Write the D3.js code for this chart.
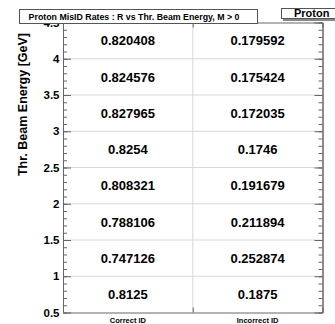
<!DOCTYPE html>
<html><head><meta charset="utf-8">
<script src="https://cdn.jsdelivr.net/npm/d3@7"></script>
<style>
body{margin:0;background:#fff;}
text{font-family:"Liberation Sans",Arial,Helvetica,sans-serif;font-weight:bold;fill:#000;}
</style></head>
<body>
<svg id="c" width="335" height="324"></svg>
<script>
// Data
const categories = ["Correct ID", "Incorrect ID"];
const binLow = [0.5, 1.0, 1.5, 2.0, 2.5, 3.0, 3.5, 4.0];
const binHigh = [1.0, 1.5, 2.0, 2.5, 3.0, 3.5, 4.0, 4.5];
const correctID = ["0.8125", "0.747126", "0.788106", "0.808321", "0.8254", "0.827965", "0.824576", "0.820408"];
const incorrectID = ["0.1875", "0.252874", "0.211894", "0.191679", "0.1746", "0.172035", "0.175424", "0.179592"];
const yTicks = [0.5, 1, 1.5, 2, 2.5, 3, 3.5, 4, 4.5];
const yTickLabels = ["0.5", "1", "1.5", "2", "2.5", "3", "3.5", "4", "4.5"];
const title = "Proton MisID Rates : R vs Thr. Beam Energy, M > 0";
const statTitle = "Proton";
const yTitle = "Thr. Beam Energy [GeV]";

const svg = d3.select("#c");
const L = 63, R = 322.5, T = 22.5, B = 312.5;
const x = d3.scaleLinear().domain([0, categories.length]).range([L, R]);
const y = d3.scaleLinear().domain([0.5, 4.5]).range([B, T]);
const axisCol = "#666";

// grid
const g = svg.append("g");
g.selectAll("line.h").data(yTicks.slice(1, -1)).enter().append("line")
  .attr("x1", L).attr("x2", R).attr("y1", d => y(d)).attr("y2", d => y(d))
  .attr("stroke", "#d8d8d8").attr("stroke-width", 1);
g.selectAll("line.v").data(d3.range(1, categories.length)).enter().append("line")
  .attr("y1", T).attr("y2", B).attr("x1", d => x(d)).attr("x2", d => x(d))
  .attr("stroke", "#d8d8d8").attr("stroke-width", 1);

// cell text
const series = [correctID, incorrectID];
series.forEach((vals, ci) => {
  svg.append("g").selectAll("text").data(vals).enter().append("text")
    .attr("x", x(ci + 0.5))
    .attr("y", (d, i) => y((binLow[i] + binHigh[i]) / 2))
    .attr("dy", "0.36em")
    .attr("text-anchor", "middle")
    .attr("font-size", "13px")
    .text(d => d);
});

// left axis
const minor = d3.range(0.5, 4.5001, 0.1);
const leftAx = d3.axisLeft(y).tickValues(yTicks).tickFormat((d, i) => yTickLabels[i]).tickSizeInner(-8).tickSizeOuter(0).tickPadding(3);
const la = svg.append("g").attr("transform", `translate(${L},0)`).call(leftAx);
la.selectAll("text").attr("font-size", "11.5px").attr("font-family", '"Liberation Sans",Arial,sans-serif').attr("font-weight", "bold").attr("fill", "#000").attr("x", -3.5);
la.selectAll("line,path").attr("stroke", axisCol);
const laMinor = d3.axisLeft(y).tickValues(minor).tickFormat("").tickSizeInner(-4).tickSizeOuter(0);
svg.append("g").attr("transform", `translate(${L},0)`).call(laMinor).selectAll("line,path").attr("stroke", axisCol);

// right axis
const rightAx = d3.axisRight(y).tickValues(yTicks).tickFormat("").tickSizeInner(-8).tickSizeOuter(0);
svg.append("g").attr("transform", `translate(${R},0)`).call(rightAx).selectAll("line,path").attr("stroke", axisCol);
const raMinor = d3.axisRight(y).tickValues(minor).tickFormat("").tickSizeInner(-4).tickSizeOuter(0);
svg.append("g").attr("transform", `translate(${R},0)`).call(raMinor).selectAll("line,path").attr("stroke", axisCol);

// bottom axis
const botAx = d3.axisBottom(x).tickValues(d3.range(0, categories.length + 1)).tickFormat("").tickSizeInner(-5).tickSizeOuter(0);
svg.append("g").attr("transform", `translate(0,${B})`).call(botAx).selectAll("line,path").attr("stroke", axisCol);
const topAx = d3.axisTop(x).tickValues(d3.range(0, categories.length + 1)).tickFormat("").tickSizeInner(-5).tickSizeOuter(0);
svg.append("g").attr("transform", `translate(0,${T})`).call(topAx).selectAll("line,path").attr("stroke", axisCol);

// category labels
svg.append("g").selectAll("text").data(categories).enter().append("text")
  .attr("x", (d, i) => x(i + 0.5)).attr("y", 322.5)
  .attr("text-anchor", "middle").attr("font-size", "7.5px").text(d => d);

// y title
svg.append("text").attr("transform", "translate(26.5,33) rotate(-90)")
  .attr("text-anchor", "end").attr("font-size", "12.5px").text(yTitle);

// title box
svg.append("rect").attr("x", 19.5).attr("y", 9.5).attr("width", 238).attr("height", 14)
  .attr("fill", "#fff").attr("stroke", "#555").attr("stroke-width", 1);
svg.append("text").attr("x", 134).attr("y", 19.7).attr("text-anchor", "middle")
  .attr("font-size", "8.8px").text(title);

// stat box
svg.append("rect").attr("x", 283).attr("y", 18.5).attr("width", 60).attr("height", 2.5).attr("fill", "#888");
svg.append("rect").attr("x", 281.5).attr("y", 8.5).attr("width", 60).attr("height", 10)
  .attr("fill", "#fff").attr("stroke", "#555").attr("stroke-width", 1);
svg.append("text").attr("x", 294).attr("y", 17.3).attr("font-size", "11px").text(statTitle);
</script>
</body></html>
